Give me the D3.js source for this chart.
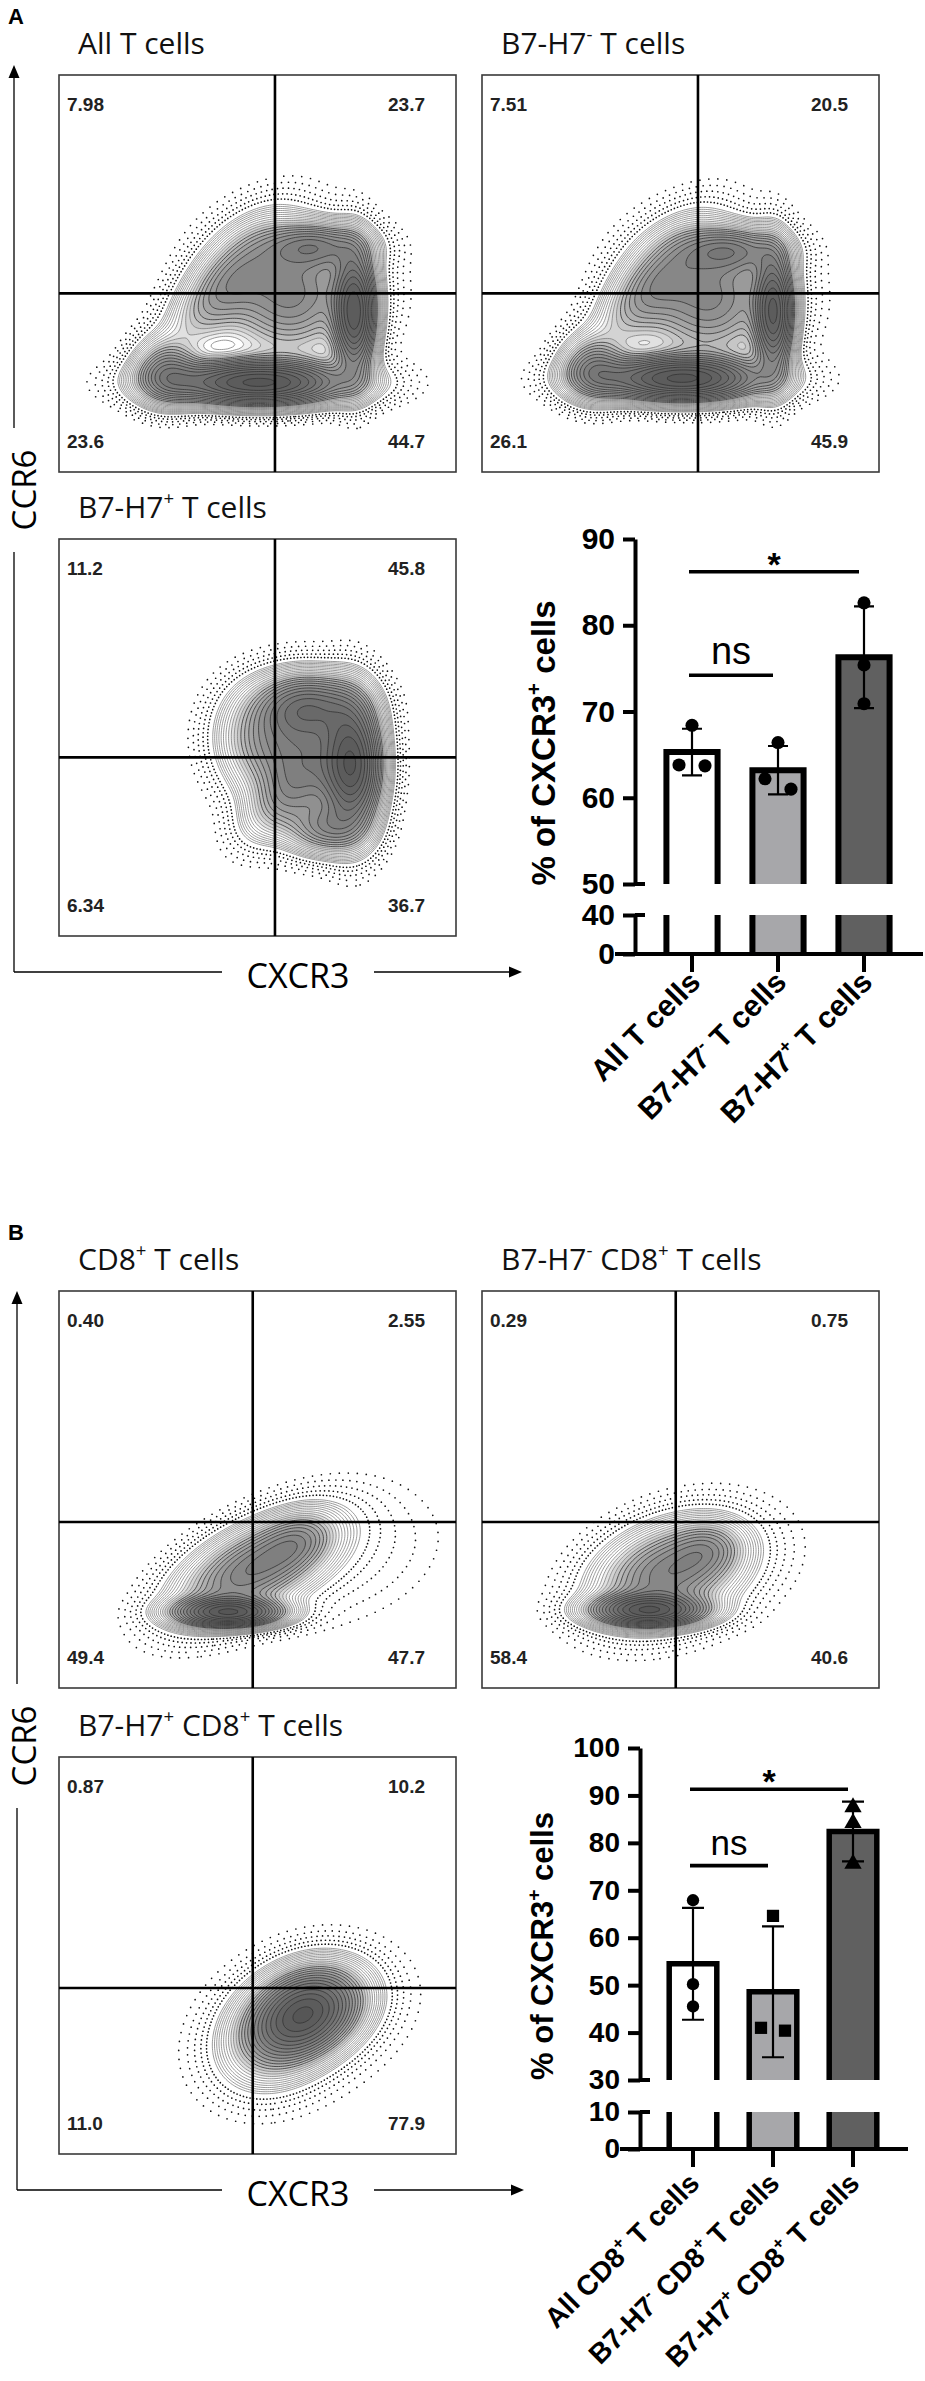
<!DOCTYPE html>
<html lang="en">
<head>
<meta charset="UTF-8">
<title>CXCR3 / CCR6 on T cells</title>
<script src="https://d3js.org/d3.v7.min.js"></script>
<style>
  body { margin: 0; background: #fff; }
  svg { display: block; }
</style>
</head>
<body>
<div id="fig"></div>
<script>
// ---------- flow plots: titles and quadrant % (UL, UR, LL, LR) ----------
const flowTitles = ["All T cells", "B7-H7^-^ T cells", "B7-H7^+^ T cells",
                    "CD8^+^ T cells", "B7-H7^-^ CD8^+^ T cells", "B7-H7^+^ CD8^+^ T cells"];
const quadValues = [
  ["7.98", "23.7", "23.6", "44.7"],
  ["7.51", "20.5", "26.1", "45.9"],
  ["11.2", "45.8", "6.34", "36.7"],
  ["0.40", "2.55", "49.4", "47.7"],
  ["0.29", "0.75", "58.4", "40.6"],
  ["0.87", "10.2", "11.0", "77.9"]
];
// gate position (CXCR3, CCR6) as fraction of the plot
const gateA = [0.544, 0.45], gateB = [0.488, 0.418];

// event populations: [cx, cy, sx, sy, angle, weight]
const popA1 = [[0.50, 0.225, 0.14, 0.035, 0, 1.0], [0.745, 0.40, 0.032, 0.095, 0, 0.85],
               [0.58, 0.45, 0.11, 0.10, 0, 0.45], [0.41, 0.46, 0.12, 0.05, 50, 0.27],
               [0.65, 0.57, 0.08, 0.035, 0, 0.35], [0.27, 0.25, 0.05, 0.05, 0, 0.35]];
const popA2 = [[0.50, 0.235, 0.13, 0.035, 0, 1.0], [0.735, 0.40, 0.03, 0.095, 0, 0.8],
               [0.57, 0.44, 0.11, 0.10, 0, 0.45], [0.42, 0.46, 0.12, 0.05, 50, 0.25],
               [0.63, 0.56, 0.08, 0.035, 0, 0.35], [0.28, 0.26, 0.05, 0.05, 0, 0.35]];
const popA3 = [[0.74, 0.43, 0.045, 0.10, 0, 1.0], [0.63, 0.58, 0.08, 0.05, 0, 0.55],
               [0.62, 0.45, 0.085, 0.10, 0, 0.5], [0.50, 0.50, 0.07, 0.08, 0, 0.22],
               [0.67, 0.27, 0.06, 0.04, 0, 0.35], [0.56, 0.34, 0.08, 0.045, 45, 0.2]];
const popB1 = [[0.43, 0.19, 0.08, 0.022, 0, 1.0], [0.49, 0.30, 0.13, 0.06, 27, 0.55],
               [0.60, 0.37, 0.06, 0.04, 25, 0.2], [0.72, 0.33, 0.17, 0.11, 20, 0.03]];
const popB2 = [[0.42, 0.195, 0.085, 0.024, 0, 1.0], [0.47, 0.29, 0.115, 0.07, 20, 0.55],
               [0.57, 0.35, 0.055, 0.04, 10, 0.2], [0.55, 0.30, 0.17, 0.11, 15, 0.025]];
const popB3 = [[0.62, 0.35, 0.08, 0.06, 20, 1.0], [0.55, 0.30, 0.09, 0.07, 35, 0.45],
               [0.67, 0.40, 0.08, 0.06, 10, 0.3], [0.62, 0.33, 0.20, 0.14, 20, 0.03]];

// ---------- bar charts ----------
const catsA = ["All T cells", "B7-H7^-^ T cells", "B7-H7^+^ T cells"];
const meansA = [65.3, 63.2, 76.3];
const sdA = [2.7, 2.8, 5.9];
const pointsA = [[68.4, 63.7, 63.8], [66.4, 61.0, 62.2], [82.6, 75.4, 70.9]];
const sigA = [[0, 1, 74.2, "ns"], [0, 2, 86.2, "*"]];

const catsB = ["All CD8^+^ T cells", "B7-H7^-^ CD8^+^ T cells", "B7-H7^+^ CD8^+^ T cells"];
const meansB = [54.5, 48.6, 82.4];
const sdB = [11.8, 13.8, 6.3];
const pointsB = [[67.9, 50.2, 45.5], [64.6, 40.4, 41.0], [87.5, 84.2, 75.6]];
const sigB = [[0, 1, 75.2, "ns"], [0, 2, 91.3, "*"]];

const barFills = ["#ffffff", "#a7a7aa", "#606060"];

const svg = d3.select("#fig").append("svg")
    .attr("width", 925).attr("height", 2381);
const defs = svg.append("defs");
const SANS = "'Liberation Sans', Arial, sans-serif";
const OPEN = "'Open Sans', 'Noto Sans', sans-serif";

// text with ^sup^ parts
function rich(t, str, fs) {
  let up = false;
  str.split("^").forEach((p, i) => {
    if (p === "") return;
    const s = t.append("tspan").text(p);
    if (i % 2) { s.attr("font-size", fs * 0.62).attr("dy", -fs * 0.42); up = true; }
    else if (up) { s.attr("dy", fs * 0.42); up = false; }
  });
  return t;
}

const S = 397;
function density(pop, n) {
  const v = new Float64Array(n * n);
  for (let j = 0; j < n; j++) {
    const yu = 1 - (-0.05 + (j + 0.5) * 1.1 / n);
    for (let i = 0; i < n; i++) {
      const xu = -0.05 + (i + 0.5) * 1.1 / n;
      let s = 0;
      for (const [cx, cy, sx, sy, a, w] of pop) {
        const r = a * Math.PI / 180, dx = xu - cx, dy = yu - cy;
        const u = dx * Math.cos(r) + dy * Math.sin(r), q = -dx * Math.sin(r) + dy * Math.cos(r);
        s += w * Math.exp(-0.5 * (u * u / (sx * sx) + q * q / (sy * sy)));
      }
      v[j * n + i] = s;
    }
  }
  return v;
}

const f0 = 0.06, f1 = 0.96, nLevels = 24;
const haloLevels = [[0.15, 9], [0.24, 7], [0.36, 5.5], [0.52, 4.4], [0.72, 3.4]];

function drawFlow(id, px, py, title, quad, pop, gate) {
  const n = 200;
  const vals = density(pop, n);
  const M = d3.max(vals);
  const path = d3.geoPath(d3.geoIdentity().scale(1.1 * S / n).translate([px - 0.05 * S, py - 0.05 * S]));
  const cont = d3.contours().size([n, n]);

  defs.append("clipPath").attr("id", "clip" + id)
    .append("rect").attr("x", px).attr("y", py).attr("width", S).attr("height", S);
  const g = svg.append("g").attr("clip-path", `url(#clip${id})`);

  // outlier events
  haloLevels.forEach(([f, gap], k) => {
    g.append("path").attr("d", path(cont.contour(vals, M * f0 * f)))
      .attr("fill", "none").attr("stroke", "#111").attr("stroke-width", 1.7)
      .attr("stroke-linecap", "round").attr("stroke-dasharray", `0 ${gap}`)
      .attr("stroke-dashoffset", k * 1.7);
  });
  // contour levels
  d3.range(nLevels).forEach(k => {
    const t = M * f0 * Math.pow(f1 / f0, k / (nLevels - 1));
    g.append("path").attr("d", path(cont.contour(vals, t)))
      .attr("fill", "#000").attr("fill-opacity", k < 7 ? 0 : 0.06)
      .attr("stroke", k < 11 ? "#808080" : "#333").attr("stroke-width", 0.8);
  });

  svg.append("rect").attr("x", px).attr("y", py).attr("width", S).attr("height", S)
    .attr("fill", "none").attr("stroke", "#3a3a3a").attr("stroke-width", 1.6);
  const gx = px + gate[0] * S, gy = py + (1 - gate[1]) * S;
  svg.append("line").attr("x1", gx).attr("x2", gx).attr("y1", py).attr("y2", py + S)
    .attr("stroke", "#000").attr("stroke-width", 2.6);
  svg.append("line").attr("x1", px).attr("x2", px + S).attr("y1", gy).attr("y2", gy)
    .attr("stroke", "#000").attr("stroke-width", 2.6);

  const qpos = [[px + 8, py + 36, "start"], [px + S - 31, py + 36, "end"],
                [px + 8, py + S - 24, "start"], [px + S - 31, py + S - 24, "end"]];
  quad.forEach((q, i) => svg.append("text").attr("x", qpos[i][0]).attr("y", qpos[i][1])
    .attr("text-anchor", qpos[i][2]).attr("font-family", SANS).attr("font-weight", "bold")
    .attr("font-size", 19).attr("fill", "#222").text(q));

  rich(svg.append("text").attr("x", px + 19).attr("y", py - 21)
    .attr("font-family", OPEN).attr("font-size", 30).attr("fill", "#111"), title, 30);
}

drawFlow(0, 59, 75, flowTitles[0], quadValues[0], popA1, gateA);
drawFlow(1, 482, 75, flowTitles[1], quadValues[1], popA2, gateA);
drawFlow(2, 59, 539, flowTitles[2], quadValues[2], popA3, gateA);
drawFlow(3, 59, 1291, flowTitles[3], quadValues[3], popB1, gateB);
drawFlow(4, 482, 1291, flowTitles[4], quadValues[4], popB2, gateB);
drawFlow(5, 59, 1757, flowTitles[5], quadValues[5], popB3, gateB);

// axis arrows (CCR6 up, CXCR3 right)
function arrows(lx, top, by, tipX, ccrY) {
  const ln = (x1, y1, x2, y2) => svg.append("line").attr("x1", x1).attr("y1", y1)
    .attr("x2", x2).attr("y2", y2).attr("stroke", "#000").attr("stroke-width", 1.3);
  ln(lx, top + 12, lx, ccrY - 62);
  ln(lx, ccrY + 62, lx, by);
  ln(lx, by, 222, by);
  ln(374, by, tipX - 12, by);
  svg.append("path").attr("d", `M${lx},${top} l-5.5,13 h11 z`).attr("fill", "#000");
  svg.append("path").attr("d", `M${tipX},${by} l-13,-5.5 v11 z`).attr("fill", "#000");
  svg.append("text").attr("transform", `translate(36,${ccrY}) rotate(-90)`)
    .attr("text-anchor", "middle").attr("font-family", OPEN).attr("font-size", 33).text("CCR6");
  svg.append("text").attr("x", 298).attr("y", by + 16).attr("text-anchor", "middle")
    .attr("font-family", OPEN).attr("font-size", 34).text("CXCR3");
}
arrows(14, 65, 972, 522, 490);
arrows(17, 1291, 2190, 524, 1746);

svg.append("text").attr("x", 8).attr("y", 24).attr("font-family", SANS).attr("font-weight", "bold")
  .attr("font-size", 22).text("A");
svg.append("text").attr("x", 8).attr("y", 1240).attr("font-family", SANS).attr("font-weight", "bold")
  .attr("font-size", 22).text("B");

function drawBars(c) {
  const x = d3.scaleBand().domain(c.cats).range(c.xRange);
  const yU = d3.scaleLinear().domain(c.upDomain).range(c.upRange);
  const yL = d3.scaleLinear().domain(c.lowDomain).range(c.lowRange);
  const bw = x.step() * 0.595;
  const cx = d => x(d) + x.bandwidth() / 2;
  const g = svg.append("g");

  // bars, broken between the two segments
  c.cats.forEach((cat, i) => {
    const x0 = cx(cat) - bw / 2, x1 = cx(cat) + bw / 2;
    g.append("rect").attr("x", x0).attr("width", bw).attr("y", yU(c.means[i]))
      .attr("height", yU(c.upDomain[0]) - yU(c.means[i])).attr("fill", barFills[i]);
    g.append("rect").attr("x", x0).attr("width", bw).attr("y", yL(c.lowDomain[1]))
      .attr("height", yL(0) - yL(c.lowDomain[1])).attr("fill", barFills[i]);
    g.append("path").attr("d", `M${x0},${yU(c.upDomain[0])}V${yU(c.means[i])}H${x1}V${yU(c.upDomain[0])}`)
      .attr("fill", "none").attr("stroke", "#000").attr("stroke-width", c.barStroke);
    g.append("path").attr("d", `M${x0},${yL(c.lowDomain[1])}V${yL(0)}M${x1},${yL(c.lowDomain[1])}V${yL(0)}`)
      .attr("fill", "none").attr("stroke", "#000").attr("stroke-width", c.barStroke);
  });

  // error bars (mean ± SD)
  c.cats.forEach((cat, i) => {
    const lo = yU(c.means[i] - c.sd[i]), hi = yU(c.means[i] + c.sd[i]), xc = cx(cat);
    g.append("path").attr("d", `M${xc},${lo}V${hi}M${xc - c.cap},${hi}H${xc + c.cap}M${xc - c.cap},${lo}H${xc + c.cap}`)
      .attr("fill", "none").attr("stroke", "#000").attr("stroke-width", 2.2);
  });

  // individual donors, spread sideways where they overlap
  c.cats.forEach((cat, i) => {
    const pts = c.points[i].map(v => ({ v, y: yU(v) })).sort((a, b) => a.y - b.y);
    const groups = [];
    pts.forEach(p => {
      const last = groups[groups.length - 1];
      if (last && p.y - last[last.length - 1].y < c.r * 2) last.push(p); else groups.push([p]);
    });
    groups.forEach(grp => grp.forEach((p, k) => {
      const dx = (k - (grp.length - 1) / 2) * c.r * 4;
      g.append("path").attr("transform", `translate(${cx(cat) + dx},${p.y})`)
        .attr("d", d3.symbol().type(c.symbols[i]).size(c.symSize[i])()).attr("fill", "#000");
    }));
  });

  // y axes (upper and lower segments)
  const axU = g.append("g").attr("transform", `translate(${c.axisX},0)`)
    .call(d3.axisLeft(yU).tickValues(c.upTicks).tickSize(12).tickSizeOuter(0).tickPadding(8));
  const axL = g.append("g").attr("transform", `translate(${c.axisX},0)`)
    .call(d3.axisLeft(yL).tickValues(c.lowTicks).tickSize(12).tickSizeOuter(0).tickPadding(8));
  [axU, axL].forEach(a => {
    a.selectAll("path, line").attr("stroke", "#000").attr("stroke-width", 4);
    a.selectAll("text").attr("font-family", SANS).attr("font-weight", "bold")
      .attr("font-size", c.tickFs).attr("fill", "#000");
  });
  // break marks
  [yU(c.upDomain[0]), yL(c.lowDomain[1])].forEach(yy => g.append("line")
    .attr("x1", c.axisX).attr("x2", c.axisX + 10).attr("y1", yy).attr("y2", yy)
    .attr("stroke", "#000").attr("stroke-width", 4));

  // x axis
  g.append("line").attr("x1", c.axisX - 20).attr("x2", c.xEnd).attr("y1", yL(0)).attr("y2", yL(0))
    .attr("stroke", "#000").attr("stroke-width", 4);
  const axX = g.append("g").attr("transform", `translate(0,${yL(0)})`)
    .call(d3.axisBottom(x).tickSize(18).tickFormat(""));
  axX.select(".domain").remove();
  axX.selectAll("line").attr("stroke", "#000").attr("stroke-width", 4);
  c.cats.forEach(cat => rich(g.append("text")
    .attr("transform", `translate(${cx(cat) + c.labOff[0]},${yL(0) + c.labOff[1]}) rotate(-45)`)
    .attr("text-anchor", "end").attr("font-family", SANS).attr("font-weight", "bold")
    .attr("font-size", c.labFs), cat, c.labFs));

  // y title
  rich(g.append("text").attr("transform", `translate(${c.titlePos[0]},${c.titlePos[1]}) rotate(-90)`)
    .attr("text-anchor", "middle").attr("font-family", SANS).attr("font-weight", "bold")
    .attr("font-size", c.titleFs), "% of CXCR3^+^ cells", c.titleFs);

  // significance
  c.sig.forEach(([a, b, v, lab]) => {
    const x1 = cx(c.cats[a]) - 3, x2 = cx(c.cats[b]) - 5, yy = yU(v);
    g.append("line").attr("x1", x1).attr("x2", x2).attr("y1", yy).attr("y2", yy)
      .attr("stroke", "#000").attr("stroke-width", 3.6);
    const star = lab === "*";
    g.append("text").attr("x", (x1 + x2) / 2).attr("y", star ? yy + 4 : yy - 11)
      .attr("text-anchor", "middle").attr("font-family", SANS)
      .attr("font-weight", star ? "bold" : "normal")
      .attr("font-size", star ? 34 : c.nsFs).text(lab);
  });
}

drawBars({
  cats: catsA, means: meansA, sd: sdA, points: pointsA, sig: sigA,
  symbols: [d3.symbolCircle, d3.symbolCircle, d3.symbolCircle], symSize: [135, 135, 135],
  xRange: [649, 907], axisX: 635, xEnd: 923,
  upDomain: [50, 90], upRange: [884, 539], lowDomain: [0, 40], lowRange: [954, 915],
  upTicks: [50, 60, 70, 80, 90], lowTicks: [0, 40],
  barStroke: 6, cap: 10, r: 6.5, tickFs: 30, labFs: 30, labOff: [10, 30],
  titleFs: 33, titlePos: [555, 743], nsFs: 38
});
drawBars({
  cats: catsB, means: meansB, sd: sdB, points: pointsB, sig: sigB,
  symbols: [d3.symbolCircle, d3.symbolSquare, d3.symbolTriangle], symSize: [120, 150, 130],
  xRange: [653, 893], axisX: 640, xEnd: 908,
  upDomain: [30, 100], upRange: [2080, 1748], lowDomain: [0, 10], lowRange: [2149, 2112],
  upTicks: [30, 40, 50, 60, 70, 80, 90, 100], lowTicks: [0, 10],
  barStroke: 5.5, cap: 11, r: 6, tickFs: 28, labFs: 28, labOff: [8, 36],
  titleFs: 31, titlePos: [553, 1946], nsFs: 35
});
</script>
</body>
</html>
